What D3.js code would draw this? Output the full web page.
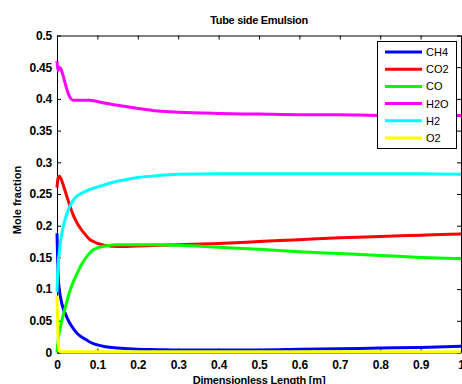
<!DOCTYPE html>
<html>
<head>
<meta charset="utf-8">
<script src="https://cdn.jsdelivr.net/npm/d3@7"></script>
<style>
  body { margin: 0; background: #fff; }
  svg text { font-family: "Liberation Sans", Arial, sans-serif; }
</style>
</head>
<body>
<div id="chart"></div>
<script>
// sampled positions along the tube (dimensionless length)
const xs = [0, 0.003, 0.006, 0.01, 0.015, 0.02, 0.03, 0.04, 0.05, 0.06, 0.07, 0.08, 0.09, 0.1,
            0.12, 0.15, 0.2, 0.25, 0.3, 0.4, 0.5, 0.6, 0.7, 0.8, 0.9, 1.0]

const ch4 = [0.188, 0.12, 0.098, 0.083, 0.07, 0.062, 0.048, 0.038, 0.03, 0.025, 0.021, 0.017, 0.014, 0.012,
             0.009, 0.007, 0.005, 0.0045, 0.004, 0.004, 0.004, 0.005, 0.006, 0.007, 0.008, 0.010]
const co2 = [0.26, 0.276, 0.278, 0.274, 0.265, 0.255, 0.235, 0.217, 0.204, 0.194, 0.186, 0.179, 0.175, 0.172,
             0.169, 0.167, 0.168, 0.169, 0.17, 0.172, 0.175, 0.178, 0.181, 0.183, 0.185, 0.187]
const co = [0, 0.02, 0.033, 0.045, 0.058, 0.07, 0.093, 0.111, 0.125, 0.138, 0.148, 0.156, 0.162, 0.165,
            0.168, 0.170, 0.170, 0.170, 0.169, 0.166, 0.163, 0.159, 0.156, 0.153, 0.150, 0.148]
const h2o = [0.46, 0.445, 0.45, 0.447, 0.437, 0.425, 0.405, 0.398, 0.398, 0.398, 0.398, 0.398, 0.397, 0.396,
             0.393, 0.39, 0.385, 0.381, 0.379, 0.377, 0.376, 0.375, 0.375, 0.374, 0.374, 0.374]
const h2 = [0.095, 0.14, 0.16, 0.18, 0.197, 0.21, 0.228, 0.24, 0.247, 0.251, 0.254, 0.257, 0.259, 0.261,
            0.265, 0.27, 0.276, 0.279, 0.281, 0.282, 0.282, 0.282, 0.282, 0.282, 0.282, 0.281]
const o2 = [0.09, 0.02, 0.003, 0.001, 0.001, 0.001, 0.001, 0.001, 0.001, 0.001, 0.001, 0.001, 0.001, 0.001,
            0.001, 0.001, 0.001, 0.001, 0.001, 0.001, 0.001, 0.001, 0.001, 0.001, 0.001, 0.001]

const names = ["CH4", "CO2", "CO", "H2O", "H2", "O2"]
const colors = ["#0000ff", "#ff0000", "#00ff00", "#ff00ff", "#00ffff", "#ffff00"]
const series = [ch4, co2, co, h2o, h2, o2]

const xTicks = [0, 0.1, 0.2, 0.3, 0.4, 0.5, 0.6, 0.7, 0.8, 0.9, 1]
const yTicks = [0, 0.05, 0.1, 0.15, 0.2, 0.25, 0.3, 0.35, 0.4, 0.45, 0.5]

const width = 462, height = 384
const plotLeft = 57, plotRight = 461, plotTop = 35.5, plotBottom = 352.5

const svg = d3.select("#chart").append("svg")
    .attr("width", width)
    .attr("height", height)

const xScale = d3.scaleLinear().domain([0, 1]).range([plotLeft, plotRight])
const yScale = d3.scaleLinear().domain([0, 0.5]).range([plotBottom, plotTop])

const fmt = d => String(+d.toFixed(2))

// axes (MATLAB style box with inward ticks)
svg.append("g")
    .attr("class", "axis")
    .attr("transform", "translate(0," + plotBottom + ")")
    .call(d3.axisBottom(xScale).tickValues(xTicks).tickSizeInner(-4).tickSizeOuter(0).tickPadding(8).tickFormat(fmt))
svg.append("g")
    .attr("class", "axis")
    .attr("transform", "translate(" + plotLeft + ",0)")
    .call(d3.axisLeft(yScale).tickValues(yTicks).tickSizeInner(-4).tickSizeOuter(0).tickPadding(5).tickFormat(fmt))
svg.append("g")
    .attr("class", "axis")
    .attr("transform", "translate(0," + plotTop + ")")
    .call(d3.axisTop(xScale).tickValues(xTicks).tickSizeInner(-4).tickSizeOuter(0).tickFormat(""))
svg.append("g")
    .attr("class", "axis")
    .attr("transform", "translate(" + plotRight + ",0)")
    .call(d3.axisRight(yScale).tickValues(yTicks).tickSizeInner(-4).tickSizeOuter(0).tickFormat(""))

svg.selectAll(".axis path").attr("stroke", "#000").attr("stroke-width", 1)
svg.selectAll(".axis line").attr("stroke", "#000").attr("stroke-width", 1)
svg.selectAll(".axis text")
    .attr("fill", "#000")
    .style("font-size", "12px")
    .style("font-weight", "bold")
    .style("letter-spacing", "-0.2px")

// lines
const line = d3.line()
    .x((d, i) => xScale(xs[i]))
    .y(d => yScale(d))
    .curve(d3.curveMonotoneX)

svg.append("g")
    .selectAll("path")
    .data(series)
    .enter()
    .append("path")
    .attr("d", d => line(d))
    .attr("fill", "none")
    .attr("stroke", (d, i) => colors[i])
    .attr("stroke-width", 3)
    .attr("stroke-linejoin", "round")

// title and labels
svg.append("text")
    .attr("x", (plotLeft + plotRight) / 2).attr("y", 24)
    .attr("text-anchor", "middle")
    .style("font-size", "11px").style("font-weight", "bold")
    .style("letter-spacing", "-0.3px")
    .text("Tube side Emulsion")
svg.append("text")
    .attr("x", (plotLeft + plotRight) / 2).attr("y", 384)
    .attr("text-anchor", "middle")
    .style("font-size", "11px").style("font-weight", "bold")
    .style("letter-spacing", "-0.2px")
    .text("Dimensionless Length [m]")
svg.append("text")
    .attr("transform", "translate(21,200) rotate(-90)")
    .attr("text-anchor", "middle")
    .style("font-size", "11px").style("font-weight", "bold")
    .text("Mole fraction")

// legend
const lg = svg.append("g")
lg.append("rect")
    .attr("x", 377.5).attr("y", 41.5)
    .attr("width", 79).attr("height", 107)
    .attr("fill", "#fff").attr("stroke", "#000").attr("stroke-width", 1)
names.forEach((n, i) => {
    const yy = 52 + i * 17.2
    lg.append("line")
        .attr("x1", 385).attr("x2", 422)
        .attr("y1", yy).attr("y2", yy)
        .attr("stroke", colors[i]).attr("stroke-width", 3)
    lg.append("text")
        .attr("x", 426).attr("y", yy + 4)
        .style("font-size", "11px")
        .text(n)
})
</script>
</body>
</html>
